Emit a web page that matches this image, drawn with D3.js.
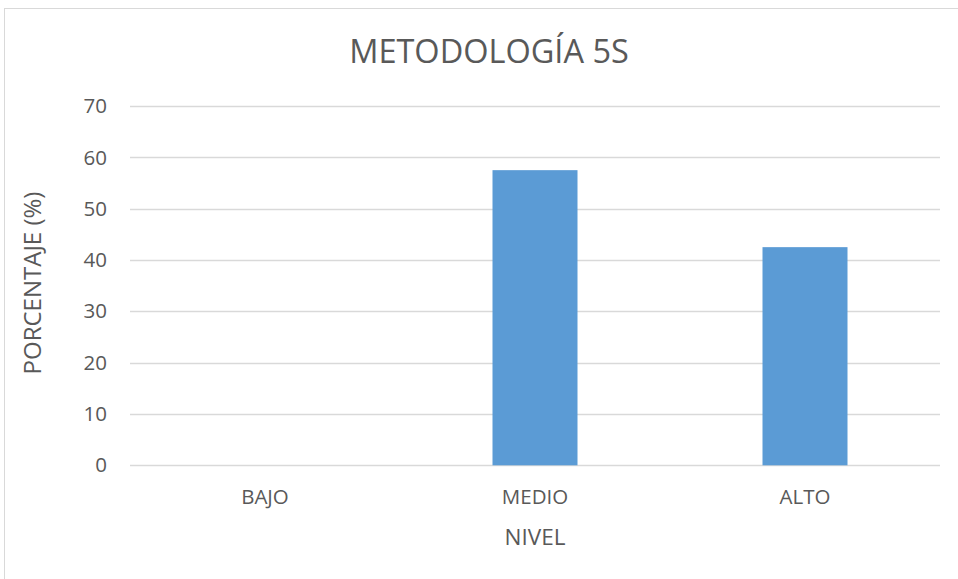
<!DOCTYPE html>
<html>
<head>
<meta charset="utf-8">
<script src="https://cdn.jsdelivr.net/npm/d3@7"></script>
<style>
  html, body { margin: 0; padding: 0; background: #fff; }
  svg { display: block; font-family: "Open Sans", "Noto Sans", sans-serif; }
</style>
</head>
<body>
<svg id="chart" width="958" height="579"></svg>
<script>
// Chart data
const categories = ["BAJO", "MEDIO", "ALTO"];
const values = [0, 57.5, 42.5];
const yTicks = [0, 10, 20, 30, 40, 50, 60, 70];
const title = "METODOLOGÍA 5S";
const xTitle = "NIVEL";
const yTitle = "PORCENTAJE (%)";

const svg = d3.select("#chart");
const textColor = "#595959";

// Outer chart frame
svg.append("rect")
  .attr("x", 4.5).attr("y", 8.5)
  .attr("width", 1000).attr("height", 600)
  .attr("fill", "#fff")
  .attr("stroke", "#d9d9d9").attr("stroke-width", 1);

const plot = { left: 130, right: 940, top: 106, bottom: 465.3 };

const x = d3.scaleBand().domain(categories).range([plot.left, plot.right]);
const barWidth = 85;

const y = d3.scaleLinear().domain([0, 70]).range([plot.bottom, plot.top]);

// Horizontal gridlines
svg.append("g")
  .selectAll("line")
  .data(yTicks)
  .join("line")
  .attr("x1", plot.left).attr("x2", plot.right)
  .attr("y1", d => Math.round(y(d)) + 0.5).attr("y2", d => Math.round(y(d)) + 0.5)
  .attr("stroke", "#d9d9d9").attr("stroke-width", 1.5);

// Y tick labels
svg.append("g")
  .selectAll("text")
  .data(yTicks)
  .join("text")
  .attr("x", 107).attr("y", d => y(d))
  .attr("dy", "0.35em")
  .attr("text-anchor", "end")
  .attr("fill", textColor)
  .attr("font-size", 20.5)
  .text(d => d);

// Bars
svg.append("g")
  .selectAll("rect")
  .data(categories.map((c, i) => ({ c, v: values[i] })))
  .join("rect")
  .attr("x", d => x(d.c) + x.bandwidth() / 2 - barWidth / 2)
  .attr("width", barWidth)
  .attr("y", d => y(d.v))
  .attr("height", d => y(0) - y(d.v))
  .attr("fill", "#5b9bd5");

// X category labels
svg.append("g")
  .selectAll("text")
  .data(categories)
  .join("text")
  .attr("x", d => x(d) + x.bandwidth() / 2)
  .attr("y", 497)
  .attr("dy", "0.35em")
  .attr("text-anchor", "middle")
  .attr("fill", textColor)
  .attr("font-size", 20.5)
  .text(d => d);

// Title
svg.append("text")
  .attr("x", 489).attr("y", 52)
  .attr("dy", "0.35em")
  .attr("text-anchor", "middle")
  .attr("fill", textColor)
  .attr("font-size", 32.5)
  .text(title);

// Axis titles
svg.append("text")
  .attr("x", 535).attr("y", 537)
  .attr("dy", "0.35em")
  .attr("text-anchor", "middle")
  .attr("fill", textColor)
  .attr("font-size", 22.5)
  .text(xTitle);

svg.append("text")
  .attr("transform", `translate(33,283) rotate(-90)`)
  .attr("dy", "0.35em")
  .attr("text-anchor", "middle")
  .attr("fill", textColor)
  .attr("font-size", 24)
  .text(yTitle);
</script>
</body>
</html>
